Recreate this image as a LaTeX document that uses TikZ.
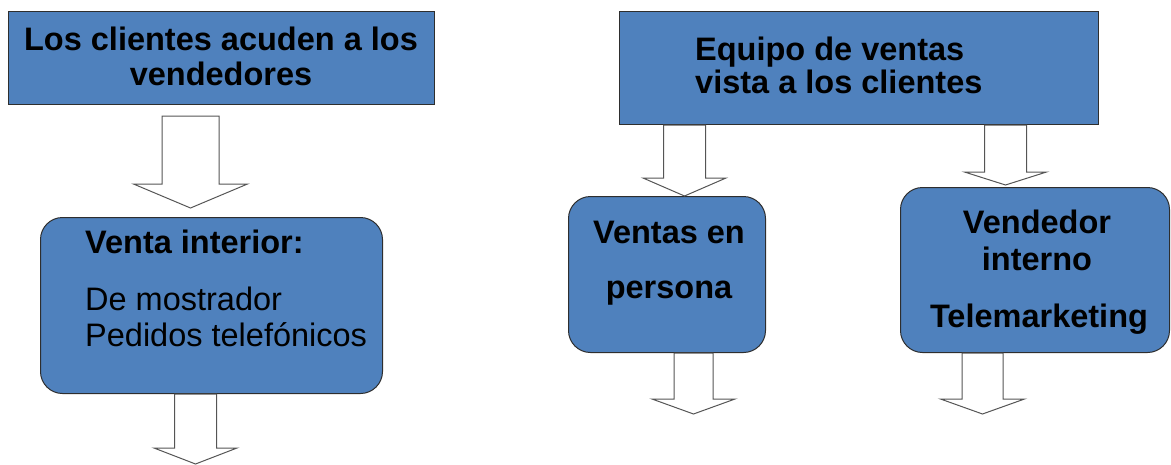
\documentclass[tikz,border=0pt]{standalone}
\usepackage{fontspec}
\setmainfont{Liberation Sans}
\usetikzlibrary{calc}
\definecolor{boxblue}{HTML}{4F81BD}
\definecolor{boxline}{HTML}{2E2E2E}
\definecolor{arrline}{HTML}{555555}
\tikzset{
  sqbox/.style={draw=boxline, fill=boxblue, line width=1pt, inner sep=0pt, anchor=north west},
  rbox/.style={sqbox, rounded corners=22pt},
  txtb/.style={font=\fontsize{32.5}{38}\selectfont\bfseries, inner sep=0pt},
  txtr/.style={font=\fontsize{32.5}{38}\selectfont, inner sep=0pt},
  blockarrow/.style={draw=arrline, fill=white, line width=1pt, line join=miter}
}
% #1 start point (gives top y), #2 tip point, #3 half shaft, #4 half head, #5 head length
\newcommand\barrow[5]{%
  \draw[blockarrow] let \p1=#1, \p2=#2 in
    (\x2-#3pt,\y1) -- (\x2-#3pt,\y2+#5pt) -- (\x2-#4pt,\y2+#5pt) -- (\x2,\y2)
    -- (\x2+#4pt,\y2+#5pt) -- (\x2+#3pt,\y2+#5pt) -- (\x2+#3pt,\y1) -- cycle;}
\begin{document}
\begin{tikzpicture}[x=1pt,y=-1pt]
\useasboundingbox (0,0) rectangle (1171,464);
% boxes
\node[sqbox, minimum width=426pt, minimum height=93pt] (b1) at (8,11) {};
\node[rbox, minimum width=342pt, minimum height=176pt] (b2) at (40,217) {};
\node[sqbox, minimum width=479pt, minimum height=113pt] (b3) at (619,11) {};
\node[rbox, minimum width=197pt, minimum height=156pt] (b4) at (568,196) {};
\node[rbox, minimum width=269pt, minimum height=165pt] (b5) at (900,187) {};
% texts
\node[txtb, anchor=base] (t1a) at (221,50) {Los clientes acuden a los};
\node[txtb, anchor=base] (t1b) at (221,85) {vendedores};
\node[txtb, anchor=base west] (t2a) at (85,253) {Venta interior:};
\node[txtr, anchor=base west] (t2b) at (85,310) {De mostrador};
\node[txtr, anchor=base west] (t2c) at (85,346) {Pedidos telefónicos};
\node[txtb, anchor=base west] (t3a) at (695,60) {Equipo de ventas};
\node[txtb, anchor=base west] (t3b) at (695,93) {vista a los clientes};
\node[txtb, anchor=base] (t4a) at (669,243) {Ventas en};
\node[txtb, anchor=base] (t4b) at (669,298) {persona};
\node[txtb, anchor=base] (t5a) at (1037,233) {Vendedor};
\node[txtb, anchor=base] (t5b) at (1037,270) {interno};
\node[txtb, anchor=base] (t5c) at (1039,327) {Telemarketing};
% block arrows
\barrow{($(b1.south)+(0,11)$)}{($(b2.north)+(-21,-9)$)}{28.5}{57}{24}
\barrow{(b2.south)}{($(b2.south)+(-16,70)$)}{21}{41.5}{16}
\barrow{(b3.south)}{($(b4.north)+(17.5,0)$)}{21}{41.5}{18}
\barrow{(b3.south)}{($(b5.north)+(-29.5,-2)$)}{21}{41}{13}
\barrow{(b4.south)}{($(b4.south)+(26.5,61)$)}{19.5}{41.5}{15}
\barrow{(b5.south)}{($(b5.south)+(-52.5,61)$)}{20.5}{42}{15}
\end{tikzpicture}
\end{document}
